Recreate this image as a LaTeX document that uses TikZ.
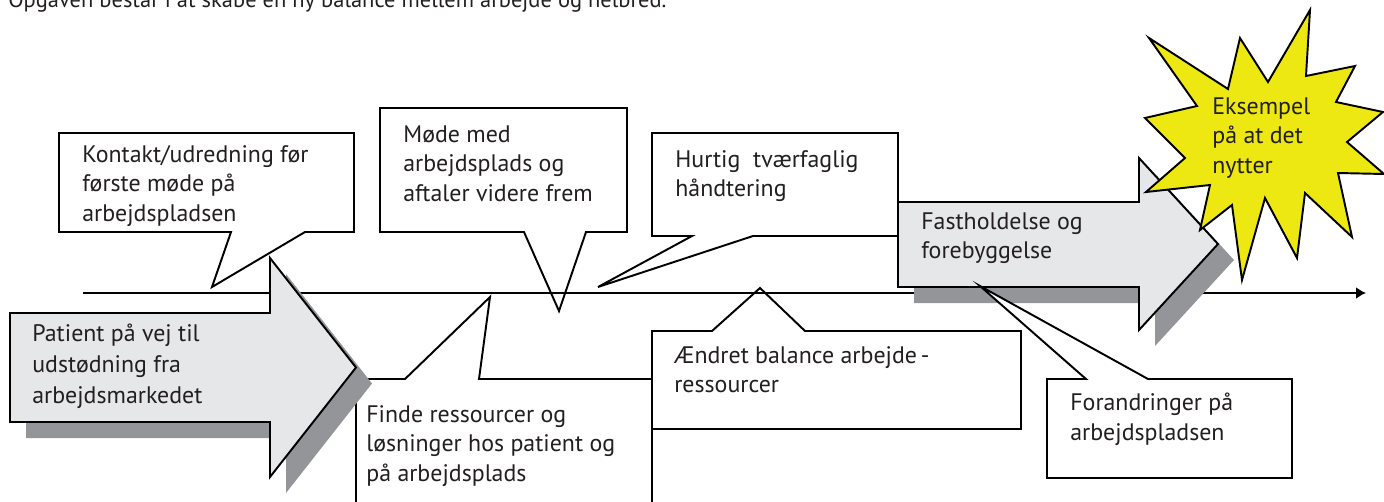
\documentclass[tikz,border=0pt]{standalone}
\usepackage{fontspec}
\setmainfont{PT Sans}
\usetikzlibrary{arrows.meta}
\definecolor{tekst}{RGB}{35,31,32}
\definecolor{pilgraa}{RGB}{230,231,232}
\definecolor{skygge}{RGB}{147,149,152}
\definecolor{stjerne}{RGB}{238,232,18}
\tikzset{
	boble/.style={draw=black,fill=white,line width=1.1pt,line join=miter},
	pil/.style={draw=black,fill=pilgraa,line width=1.1pt,line join=miter},
	pilskygge/.style={fill=skygge,draw=none},
	tekstboks/.style={anchor=north west,inner sep=0pt,align=left,text=tekst,font=\fontsize{13.6pt}{16.8pt}\selectfont},
}
\begin{document}
\begin{tikzpicture}[x=0.02cm,y=-0.02cm]
	\useasboundingbox (0,0) rectangle (1384,501);
	\clip (0,0) rectangle (1384,501);

	% Overskrift
	\node[anchor=base west,inner sep=0pt,text=tekst,font=\fontsize{12.8pt}{15pt}\selectfont] (overskrift) at (8,7) {Opgaven består i at skabe en ny balance mellem arbejde og helbred.};

	% Bobler
	\draw[boble] (59,133) -- (354,133) -- (354,232) -- (305,232) -- (212,287) -- (231,232) -- (59,232) -- cycle;
	\draw[boble] (380,108) -- (627,108) -- (627,232) -- (586,232) -- (559,311) -- (524,232) -- (380,232) -- cycle;
	\draw[boble] (652,133) -- (898,133) -- (898,236) -- (753,236) -- (598,287) -- (692,236) -- (652,236) -- cycle;
	\draw[boble] (356,379) -- (405,379) -- (490,297) -- (479,379) -- (652,379) -- (652,520) -- (356,520) -- cycle;
	\draw[boble] (652,331) -- (712,331) -- (760,288) -- (805,331) -- (1021,331) -- (1021,429) -- (652,429) -- cycle;

	\node[tekstboks] (kontakt) at (82,145) {Kontakt/udredning før\\første møde på\\arbejdspladsen};
	\node[tekstboks] (moede) at (403,125) {Møde med\\arbejdsplads og\\aftaler videre frem};
	\node[tekstboks] (hurtig) at (675,150) {Hurtig\ \ tværfaglig\\håndtering};
	\node[tekstboks] (finde) at (366,405) {Finde ressourcer og\\løsninger hos patient og\\på arbejdsplads};
	\node[tekstboks] (aendret) at (674,346) {Ændret balance arbejde\,-\\ressourcer};

	% Akse
	\draw[-{Latex[length=2mm,width=2.4mm]},line width=1.1pt] (83,293) -- (1366,293);

	% Pile
	\fill[pilskygge,shift={(16,16)}] (10,313) -- (270,313) -- (270,258) -- (356,367.5) -- (270,477) -- (270,422) -- (10,422) -- cycle;
	\draw[pil] (10,313) -- (270,313) -- (270,258) -- (356,367.5) -- (270,477) -- (270,422) -- (10,422) -- cycle;
	\node[tekstboks,font=\fontsize{13.6pt}{17.5pt}\selectfont] (patient) at (32,324) {Patient på vej til\\udstødning fra\\arbejdsmarkedet};

	\fill[pilskygge,shift={(16,16)}] (898,202) -- (1139,202) -- (1139,158) -- (1218,244) -- (1139,330) -- (1139,287) -- (898,287) -- cycle;
	\draw[pil] (898,202) -- (1139,202) -- (1139,158) -- (1218,244) -- (1139,330) -- (1139,287) -- (898,287) -- cycle;
	\node[tekstboks] (fasthold) at (921,212) {Fastholdelse og\\forebyggelse};

	\draw[boble] (1047,379) -- (1086,379) -- (980,286) -- (1148,379) -- (1292,379) -- (1292,478) -- (1047,478) -- cycle;
	\node[tekstboks] (forandring) at (1070,393) {Forandringer på\\arbejdspladsen};

	% Stjerne
	\draw[fill=stjerne,line width=1.1pt,line join=miter] (1310,10) -- (1306,76) -- (1355,66) -- (1336,102) -- (1383,112) -- (1347,142) -- (1384,174) -- (1338,173) -- (1352,237) -- (1305,193) -- (1297,258) -- (1265,198) -- (1242,280) -- (1232,205) -- (1200,230) -- (1210,185) -- (1146,192) -- (1185,158) -- (1145,118) -- (1197,106) -- (1149,38) -- (1228,89) -- (1240,38) -- (1268,82) -- cycle;
	\node[tekstboks] (eksempel) at (1212,97) {Eksempel\\på at det\\nytter};
\end{tikzpicture}
\end{document}
